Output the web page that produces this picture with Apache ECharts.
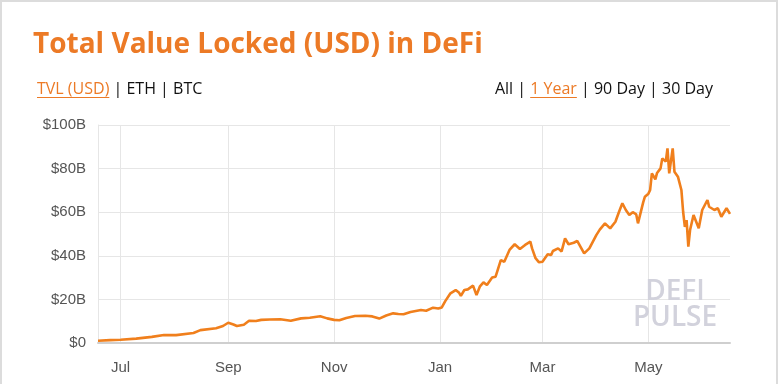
<!DOCTYPE html>
<html><head><meta charset="utf-8">
<script src="https://cdn.jsdelivr.net/npm/echarts@6/dist/echarts.min.js"></script>
<style>html,body{margin:0;padding:0;background:#fff}#c{width:780px;height:384px}</style>
</head><body><div id="c"></div>
<script>
const dates = ['2020-06-18','2020-06-25','2020-07-01','2020-07-10','2020-07-19','2020-07-26','2020-08-02','2020-08-12','2020-08-16','2020-08-25','2020-08-29','2020-09-01','2020-09-04','2020-09-06','2020-09-10','2020-09-13','2020-09-17','2020-09-20','2020-09-25','2020-10-01','2020-10-07','2020-10-13','2020-10-18','2020-10-24','2020-10-28','2020-11-01','2020-11-04','2020-11-08','2020-11-13','2020-11-19','2020-11-23','2020-11-27','2020-12-01','2020-12-05','2020-12-08','2020-12-11','2020-12-15','2020-12-21','2020-12-24','2020-12-28','2020-12-31','2021-01-02','2021-01-04','2021-01-07','2021-01-10','2021-01-12','2021-01-13','2021-01-15','2021-01-17','2021-01-20','2021-01-22','2021-01-24','2021-01-26','2021-01-28','2021-01-31','2021-02-02','2021-02-05','2021-02-07','2021-02-10','2021-02-13','2021-02-16','2021-02-19','2021-02-22','2021-02-23','2021-02-25','2021-02-27','2021-03-01','2021-03-04','2021-03-06','2021-03-07','2021-03-10','2021-03-12','2021-03-14','2021-03-16','2021-03-19','2021-03-21','2021-03-23','2021-03-25','2021-03-28','2021-04-01','2021-04-03','2021-04-06','2021-04-09','2021-04-12','2021-04-14','2021-04-16','2021-04-18','2021-04-20','2021-04-22','2021-04-24','2021-04-25','2021-04-28','2021-04-29','2021-05-01','2021-05-02','2021-05-03','2021-05-05','2021-05-06','2021-05-08','2021-05-09','2021-05-11','2021-05-12','2021-05-13','2021-05-15','2021-05-16','2021-05-18','2021-05-20','2021-05-21','2021-05-22','2021-05-23','2021-05-24','2021-05-25','2021-05-27','2021-05-30','2021-06-01','2021-06-04','2021-06-05','2021-06-08','2021-06-10','2021-06-12','2021-06-15','2021-06-16','2021-06-17'];
const tvl = [1.0,1.3,1.5,2.0,2.8,3.7,3.6,4.6,5.9,6.8,7.8,9.3,8.5,7.8,8.4,10.2,10.1,10.6,10.8,10.9,10.2,11.3,11.6,12.3,11.3,10.6,10.4,11.5,12.4,12.5,12.2,11.2,12.6,13.6,13.3,13.2,14.2,15.1,14.8,16.2,15.8,16.3,19.2,22.8,24.3,23.0,21.6,24.3,24.6,26.3,22.0,26.0,27.8,26.6,30.0,30.4,38.0,37.3,42.7,45.3,43.1,45.0,46.5,43.4,38.9,37.0,37.3,40.7,40.4,42.2,43.4,42.0,48.0,45.3,46.0,46.8,44.0,41.1,43.4,49.5,52.0,54.9,52.6,55.6,60.0,64.1,61.0,58.7,60.0,59.0,54.9,64.5,67.1,68.5,70.2,77.8,75.1,78.0,80.1,84.7,83.2,89.3,77.8,89.3,78.6,76.3,70.2,60.2,53.3,56.4,44.2,51.8,58.7,52.6,61.0,65.6,62.5,61.0,61.8,57.9,61.8,62.5,59.2];
const xRange = ['2020-06-18','2021-06-17'];
const xTickDates = ['2020-07-01','2020-09-01','2020-11-01','2021-01-01','2021-03-01','2021-05-01'];
const monthNames = ['Jan','Feb','Mar','Apr','May','Jun','Jul','Aug','Sep','Oct','Nov','Dec'];
const yMin = 0, yMax = 100, yStep = 20;
const leftLinks = ['TVL (USD)', ' | ETH | BTC'];
const rightLinks = ['All | ', '1 Year', ' | 90 Day | 30 Day'];

function ts(s){const p=s.split('-').map(Number);return new Date(p[0],p[1]-1,p[2]).getTime();}
const seriesData = dates.map((d,i)=>[ts(d), tvl[i]]);
const tickTs = xTickDates.map(ts);
const orange = '#ec7a26';
const linkFont = '16px "Open Sans"';
const mctx = document.createElement('canvas').getContext('2d');
mctx.font = linkFont;
const mw = s => mctx.measureText(s).width;

const lx0 = 37, ly = 89;
const lw0 = mw(leftLinks[0]);
const rEnd = 713;
const rw = rightLinks.map(mw);
const rx0 = rEnd - rw[0] - rw[1] - rw[2];
const rx1 = rx0 + rw[0], rx2 = rx1 + rw[1];

const chart = echarts.init(document.getElementById('c'), null, {renderer:'canvas'});
chart.setOption({
  animation:false,
  backgroundColor:'#fff',
  title:{
    text:'Total Value Locked (USD) in DeFi',
    left:28, top:26,
    textStyle:{color:orange, fontFamily:'Open Sans', fontWeight:'bold', fontSize:28}
  },
  grid:{left:98, right:50, top:125, bottom:41, containLabel:false},
  xAxis:{
    type:'value',
    min:ts(xRange[0]), max:ts(xRange[1]),
    axisLine:{show:true, onZero:false, lineStyle:{color:'#cfcfcf', width:2}},
    axisTick:{show:false, customValues:tickTs},
    axisLabel:{customValues:tickTs, formatter:v=>monthNames[new Date(v).getMonth()], color:'#555', fontSize:15, fontFamily:'Liberation Sans', margin:17},
    splitLine:{show:true, lineStyle:{color:'#e6e6e6', width:1}}
  },
  yAxis:{
    type:'value', min:yMin, max:yMax, interval:yStep,
    axisLine:{show:true, lineStyle:{color:'#e6e6e6'}},
    axisTick:{show:false},
    axisLabel:{formatter:v=>v===0?'$0':'$'+v+'B', color:'#555', fontSize:15, fontFamily:'Liberation Sans', margin:12},
    splitLine:{show:true, lineStyle:{color:'#e6e6e6', width:1}}
  },
  series:[{
    type:'line', data:seriesData, showSymbol:false, symbol:'none',
    lineStyle:{color:'#f07f1c', width:2.6}, z:5
  }],
  graphic:[
    {type:'rect', shape:{x:1, y:1, width:776, height:390}, style:{fill:'none', stroke:'#dcdcdc', lineWidth:2}, silent:true},
    {type:'text', x:lx0, y:ly, style:{text:leftLinks[0], font:linkFont, fill:orange, textVerticalAlign:'middle'}},
    {type:'text', x:lx0+lw0, y:ly, style:{text:leftLinks[1], font:linkFont, fill:'#111', textVerticalAlign:'middle'}},
    {type:'line', shape:{x1:lx0, y1:97.5, x2:lx0+lw0, y2:97.5}, style:{stroke:orange, lineWidth:1}},
    {type:'text', x:rx0, y:ly, style:{text:rightLinks[0], font:linkFont, fill:'#111', textVerticalAlign:'middle'}},
    {type:'text', x:rx1, y:ly, style:{text:rightLinks[1], font:linkFont, fill:orange, textVerticalAlign:'middle'}},
    {type:'text', x:rx2, y:ly, style:{text:rightLinks[2], font:linkFont, fill:'#111', textVerticalAlign:'middle'}},
    {type:'line', shape:{x1:rx1, y1:97.5, x2:rx2, y2:97.5}, style:{stroke:orange, lineWidth:1}},
    {type:'text', x:675, y:292, style:{text:'DEFI', font:'600 28px "Open Sans"', fill:'#d2d2dc', textAlign:'center', textVerticalAlign:'middle'}, z:1},
    {type:'text', x:675, y:318.5, style:{text:'PULSE', font:'600 28px "Open Sans"', fill:'#d2d2dc', textAlign:'center', textVerticalAlign:'middle'}, z:1}
  ]
});
</script></body></html>
